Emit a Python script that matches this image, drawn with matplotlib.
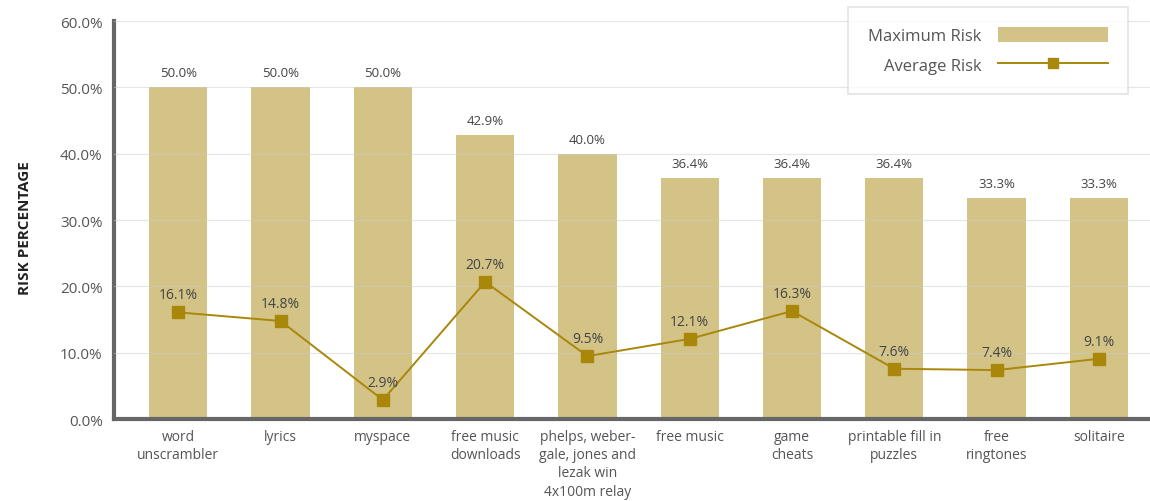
import numpy as np
import matplotlib.pyplot as plt
from matplotlib.ticker import FuncFormatter

plt.rcParams['font.family'] = ['Open Sans', 'DejaVu Sans']

# data
categories = ['word\nunscrambler', 'lyrics', 'myspace', 'free music\ndownloads',
              'phelps, weber-\ngale, jones and\nlezak win\n4x100m relay',
              'free music', 'game\ncheats', 'printable fill in\npuzzles',
              'free\nringtones', 'solitaire']
max_risk = [50.0, 50.0, 50.0, 42.9, 40.0, 36.4, 36.4, 36.4, 33.3, 33.3]
avg_risk = [16.1, 14.8, 2.9, 20.7, 9.5, 12.1, 16.3, 7.6, 7.4, 9.1]

bar_color = '#d4c386'
line_color = '#a8870a'
text_color = '#555555'

fig = plt.figure(figsize=(11.5, 5.02), dpi=100)
ax = fig.add_axes([0.099, 0.163, 0.901, 0.793])

x = np.arange(len(categories))
bars = ax.bar(x, max_risk, width=0.57, color=bar_color, zorder=1, label='Maximum Risk')
line, = ax.plot(x, avg_risk, color=line_color, lw=1.4, marker='s', markersize=8.5,
                zorder=3, label='Average Risk')

for xi, v in zip(x, max_risk):
    ax.text(xi, v + 1.2, f'{v:.1f}%', ha='center', va='bottom', fontsize=9.5, color='#444444')
for xi, v in zip(x, avg_risk):
    ax.text(xi, v + 1.5, f'{v:.1f}%', ha='center', va='bottom', fontsize=10, color='#444444', zorder=4)

ax.set_ylim(0, 60)
ax.set_xlim(-0.63, 9.5)
ax.set_yticks(np.arange(0, 61, 10))
ax.yaxis.set_major_formatter(FuncFormatter(lambda v, p: f'{v:.1f}%'))
ax.set_xticks(x)
ax.set_xticklabels(categories, fontsize=10, color=text_color, linespacing=1.3)
ax.tick_params(axis='y', length=0, pad=8, labelsize=11, labelcolor=text_color)
ax.tick_params(axis='x', length=0, pad=7)

ax.grid(axis='y', color='#cccccc', lw=0.8, alpha=0.5)
ax.set_axisbelow(False)

for s in ['top', 'right']:
    ax.spines[s].set_visible(False)
for s in ['left', 'bottom']:
    ax.spines[s].set_color('#666666')
    ax.spines[s].set_linewidth(3)

fig.text(0.022, 0.545, 'RISK PERCENTAGE', rotation=90, ha='center', va='center',
         fontsize=11, fontweight='bold', color='#222222')

leg = ax.legend([bars, line], ['Maximum Risk', 'Average Risk'],
                loc='upper right', bbox_to_anchor=(0.979, 1.035), markerfirst=False,
                handlelength=6.6, handleheight=1.0, fontsize=12, labelcolor=text_color,
                frameon=True, fancybox=False, edgecolor='#dddddd', borderpad=1.2,
                labelspacing=0.75, handletextpad=1.0, borderaxespad=0, markerscale=0.8)
leg.get_frame().set_linewidth(1.2)
for t in leg.get_texts():
    t.set_ha('right')

fig.savefig('out.png', dpi=100)
